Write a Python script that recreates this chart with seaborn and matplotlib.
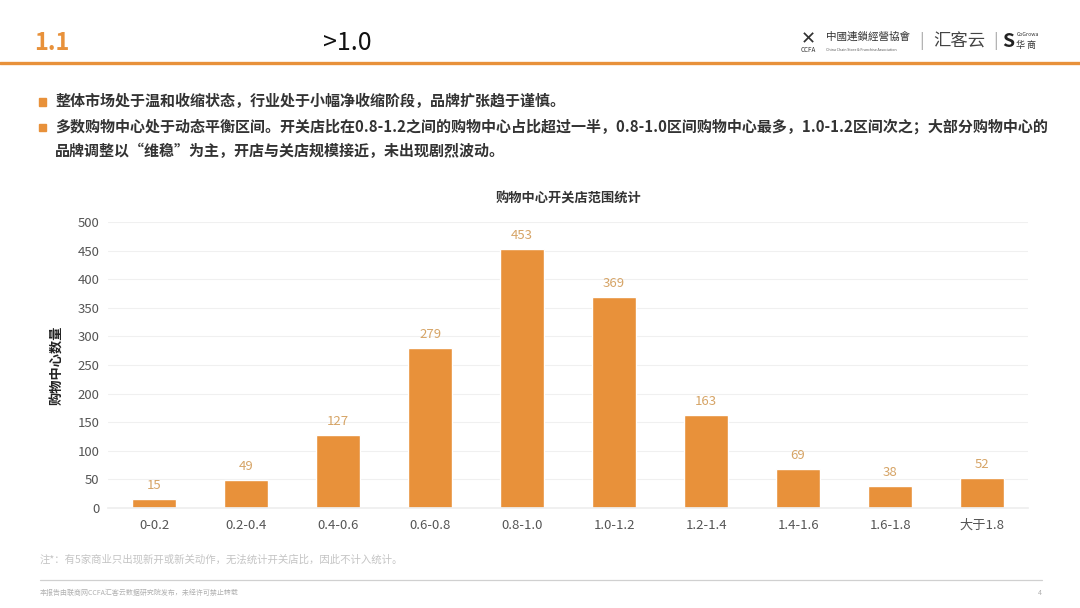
import matplotlib
matplotlib.use("Agg")
import matplotlib.pyplot as plt
import seaborn as sns
import pandas as pd

# ------------------------------------------------------------
# data
# ------------------------------------------------------------
ranges = ["0-0.2", "0.2-0.4", "0.4-0.6", "0.6-0.8", "0.8-1.0",
          "1.0-1.2", "1.2-1.4", "1.4-1.6", "1.6-1.8", "大于1.8"]
counts = [15, 49, 127, 279, 453, 369, 163, 69, 38, 52]
y_ticks = [0, 50, 100, 150, 200, 250, 300, 350, 400, 450, 500]

chart_title = "购物中心开关店范围统计"
y_label = "购物中心数量"
bullets = [
    "整体市场处于温和收缩状态，行业处于小幅净收缩阶段，品牌扩张趋于谨慎。",
    "多数购物中心处于动态平衡区间。开关店比在0.8-1.2之间的购物中心占比超过一半，0.8-1.0区间购物中心最多，1.0-1.2区间次之；大部分购物中心的",
    "品牌调整以“维稳”为主，开店与关店规模接近，未出现剧烈波动。",
]
note = "注*：有5家商业只出现新开或新关动作，无法统计开关店比，因此不计入统计。"
footer = "本报告由联商网CCFA汇客云数据研究院发布，未经许可禁止转载"

ORANGE = "#E8913A"
LABEL_C = "#D6A466"

sns.set_theme(style="white")
plt.rcParams["font.family"] = ["Noto Sans CJK SC", "DejaVu Sans"]

df = pd.DataFrame({"range": ranges, "count": counts})

fig = plt.figure(figsize=(10.8, 6.08), dpi=100)
fig.patch.set_facecolor("white")

# ------------------------------------------------------------
# header
# ------------------------------------------------------------
fig.text(0.032, 0.93, "1.1", fontsize=17, fontweight="bold", color=ORANGE,
         va="center", ha="left")
fig.text(0.299, 0.93, ">1.0", fontsize=18, color="#111111",
         va="center", ha="left")
fig.add_artist(plt.Line2D([0, 1], [0.896, 0.896], color=ORANGE, lw=2.4,
                          transform=fig.transFigure))

# logos on the right, as text
fig.text(0.741, 0.936, "✕", fontsize=13, fontweight="bold", color="#333333",
         va="center", family=["DejaVu Sans"])
fig.text(0.765, 0.94, "中國連鎖經營協會", fontsize=7.6, color="#333333",
         va="center")
fig.text(0.741, 0.918, "CCFA", fontsize=4.5, color="#333333", va="center")
fig.text(0.765, 0.918, "China Chain Store & Franchise Association",
         fontsize=2.6, color="#555555", va="center")
fig.text(0.851, 0.932, "|", fontsize=12, color="#aaaaaa", va="center")
fig.text(0.864, 0.932, "汇客云", fontsize=12.5, color="#444444", va="center")
fig.text(0.920, 0.932, "|", fontsize=12, color="#aaaaaa", va="center")
fig.text(0.928, 0.932, "S", fontsize=14, fontweight="bold", color="#222222",
         va="center")
fig.text(0.941, 0.944, "CoGrowa", fontsize=3.8, color="#333333", va="center")
fig.text(0.941, 0.925, "华 商", fontsize=6.5, color="#333333", va="center")

# ------------------------------------------------------------
# bullet text
# ------------------------------------------------------------
bullet_y = [0.834, 0.792, 0.752]
for i, (txt, yy) in enumerate(zip(bullets, bullet_y)):
    if i < 2:
        fig.add_artist(plt.Rectangle((0.036, yy - 0.008), 0.0065, 0.0125,
                                     color=ORANGE, transform=fig.transFigure))
    fig.text(0.051, yy, txt, fontsize=10.8, fontweight="bold",
             color="#333333", va="center", ha="left")

# ------------------------------------------------------------
# bar chart
# ------------------------------------------------------------
ax = fig.add_axes([0.1, 0.1645, 0.852, 0.4704])
sns.barplot(data=df, x="range", y="count", color=ORANGE, saturation=1,
            width=0.48, ax=ax)
ax.bar_label(ax.containers[0], padding=5, fontsize=9.5, color=LABEL_C)

ax.set_ylim(0, 500)
ax.set_yticks(y_ticks)
ax.set_xlim(-0.5, len(ranges) - 0.5)
ax.yaxis.grid(True, color="#F0F0F0", lw=0.8)
ax.set_axisbelow(True)
for s in ["top", "right", "left"]:
    ax.spines[s].set_visible(False)
ax.spines["bottom"].set_color("#EEEEEE")
ax.tick_params(axis="both", length=0, labelsize=9.5, labelcolor="#555555")
ax.tick_params(axis="x", pad=8)
ax.tick_params(axis="y", pad=6)
ax.set_xlabel("")
ax.set_ylabel(y_label, fontsize=9.5, fontweight="bold", color="#222222",
              labelpad=10)
ax.set_title(chart_title, fontsize=9.5, fontweight="bold", color="#333333",
             pad=14)

# ------------------------------------------------------------
# footnote and footer
# ------------------------------------------------------------
fig.text(0.037, 0.079, note, fontsize=7.5, color="#C4C4C4", va="center")
fig.add_artist(plt.Line2D([0.037, 0.965], [0.046, 0.046], color="#D0D0D0",
                          lw=0.9, transform=fig.transFigure))
fig.text(0.037, 0.024, footer, fontsize=5, color="#B0B0B0", va="center")
fig.text(0.965, 0.024, "4", fontsize=5, color="#B0B0B0", va="center",
         ha="right")

fig.savefig("out.png", dpi=100, facecolor="white")
